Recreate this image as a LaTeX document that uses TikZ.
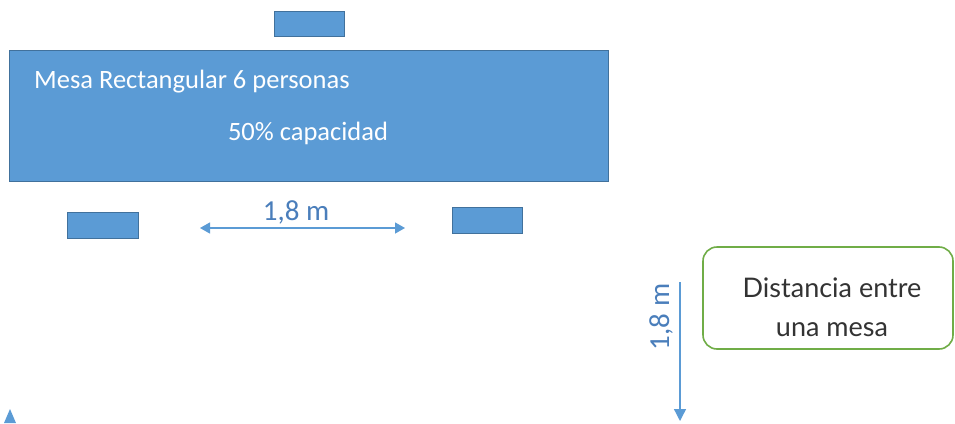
\documentclass[tikz,border=0pt]{standalone}
\usepackage{fontspec}
\setmainfont{Carlito}
\newfontfamily\boxfont{Lato}
\usetikzlibrary{arrows.meta}
\definecolor{tblue}{HTML}{5B9BD5}
\definecolor{tedge}{HTML}{41719C}
\definecolor{lblue}{HTML}{4A7EBB}
\definecolor{tgreen}{HTML}{70AD47}
\begin{document}
\begin{tikzpicture}[x=1pt,y=-1pt,
  seat/.style={draw=tedge,fill=tblue,line width=0.8pt},
  dim/.style={draw=tblue,line width=1.3pt,{Triangle[length=10pt,width=11pt]}-{Triangle[length=10pt,width=11pt]}},
  dimlabel/.style={text=lblue,font=\fontsize{29}{32}\selectfont,inner sep=0pt},
  tabletext/.style={text=white,font=\fontsize{26.5}{30}\selectfont,inner sep=0pt},
  note/.style={draw=tgreen,line width=1.6pt,rounded corners=14pt}]
\useasboundingbox (0,0) rectangle (955,423);
\fill[white] (0,0) rectangle (955,423);
\path[seat] (274,11) rectangle (344,36);
\path[seat] (9,50) rectangle (608,181);
\node[tabletext,anchor=west] (t1) at (34,82) {Mesa Rectangular 6 personas};
\node[tabletext] (t2) at (308,133) {50\% capacidad};
\path[seat] (67,212) rectangle (138,238);
\path[seat] (452,207) rectangle (522,233);
\coordinate (ha) at (200,228);
\coordinate (hb) at (405,228);
\draw[dim] (ha) -- (hb);
\node[dimlabel] (hl) at (296,212) {1,8 m};
\coordinate (va) at (680,282);
\coordinate (vb) at (680,421);
\draw[draw=tblue,line width=1.3pt,-{Triangle[length=12pt,width=12pt]}] (va) -- (vb);
\node[dimlabel,rotate=90] (vl) at (661,317) {1,8 m};
\draw[note] (703,247) rectangle (953,349);
\node[font=\boxfont\fontsize{27}{39}\selectfont,align=center,text=black!80,inner sep=0pt] (n) at (832,307) {Distancia entre\\una mesa};
\fill[tblue] (10,409) -- (4,423) -- (16,423) -- cycle;
\end{tikzpicture}
\end{document}
